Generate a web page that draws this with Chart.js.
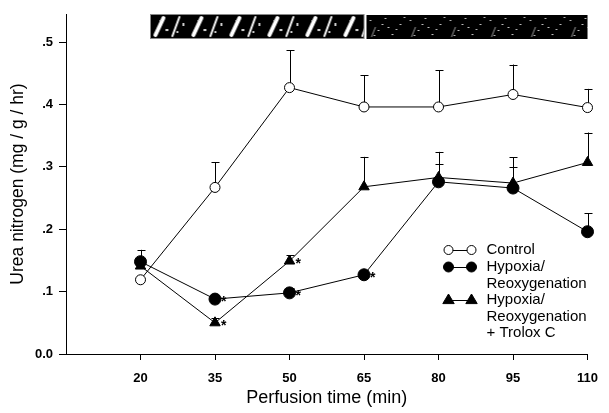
<!DOCTYPE html>
<html>
<head>
<meta charset="utf-8">
<script src="https://cdn.jsdelivr.net/npm/chart.js@4.4.1/dist/chart.umd.min.js"></script>
<style>
  html, body { margin: 0; padding: 0; background: #fff; }
  #wrap { width: 609px; height: 413px; position: relative; }
</style>
</head>
<body>
<div id="wrap"><canvas id="c"></canvas></div>
<script>
// ---- data ----
const times = [20, 35, 50, 65, 80, 95, 110];
const xTickValues = [20, 35, 50, 65, 80, 95, 110];
const yTickValues = [0, 0.1, 0.2, 0.3, 0.4, 0.5];

const controlMean = [0.119, 0.267, 0.427, 0.396, 0.396, 0.416, 0.395];
const controlUpper = [null, 0.307, 0.487, 0.447, 0.455, 0.464, 0.425];

const hypoxiaMean = [0.148, 0.088, 0.098, 0.127, 0.276, 0.266, 0.196];
const hypoxiaUpper = [0.167, 0.095, 0.105, 0.135, 0.305, 0.300, 0.226];
const hypoxiaStar = [false, true, true, true, false, false, false];

const troloxMean = [0.141, 0.050, 0.149, 0.268, 0.283, 0.274, 0.307];
const troloxUpper = [null, 0.057, 0.158, 0.316, 0.324, 0.315, 0.355];
const troloxStar = [false, true, true, false, false, false, false];

const legendLabels = [
  ['Control'],
  ['Hypoxia/', 'Reoxygenation'],
  ['Hypoxia/', 'Reoxygenation', '+ Trolox C']
];
// periods shown by the top bar (x values)
const hypoxiaPeriod = [22, 65];
const reoxPeriod = [65.5, 110];

const FONT = 'Liberation Sans, Arial, Helvetica, sans-serif';

function pts(arr) { return times.map((t, i) => ({ x: t, y: arr[i] })); }

const datasets = [
  { label: 'Control', data: pts(controlMean), upper: controlUpper, stars: null, clip: false,
    borderColor: '#000', borderWidth: 1, pointStyle: 'circle', pointRadius: 5,
    pointBackgroundColor: '#fff', pointBorderColor: '#000', pointBorderWidth: 1, order: 1 },
  { label: 'Hypoxia/Reoxygenation', data: pts(hypoxiaMean), upper: hypoxiaUpper, stars: hypoxiaStar, clip: false,
    borderColor: '#000', borderWidth: 1, pointStyle: 'circle', pointRadius: 6,
    pointBackgroundColor: '#000', pointBorderColor: '#000', pointBorderWidth: 1, order: 2 },
  { label: 'Hypoxia/Reoxygenation + Trolox C', data: pts(troloxMean), upper: troloxUpper, stars: troloxStar, clip: false,
    borderColor: '#000', borderWidth: 1, pointStyle: 'triangle', pointRadius: 6,
    pointBackgroundColor: '#000', pointBorderColor: '#000', pointBorderWidth: 1, order: 3 }
];

function makeStreakPattern(ctx, ox, oy) {
  const c = document.createElement('canvas');
  c.width = 38; c.height = 24;
  const g = c.getContext('2d');
  g.fillStyle = '#000'; g.fillRect(0, 0, 38, 24);
  g.strokeStyle = '#fff'; g.lineCap = 'round';
  g.lineWidth = 4;
  g.beginPath(); g.moveTo(5, 21); g.lineTo(13, 4); g.stroke();
  g.lineWidth = 2;
  g.beginPath(); g.moveTo(22, 22); g.lineTo(29, 3); g.stroke();
  g.fillStyle = '#ccc';
  g.fillRect(15, 15, 3, 2); g.fillRect(32, 9, 2, 3); g.fillRect(9, 6, 2, 1); g.fillRect(26, 17, 2, 2);
  const p = ctx.createPattern(c, 'repeat');
  if (p.setTransform) p.setTransform(new DOMMatrix().translate(ox, oy));
  return p;
}
function makeSpecklePattern(ctx, ox, oy) {
  const c = document.createElement('canvas');
  c.width = 40; c.height = 24;
  const g = c.getContext('2d');
  g.fillStyle = '#000'; g.fillRect(0, 0, 40, 24);
  g.fillStyle = '#bbb';
  const spots = [[3,5],[11,15],[18,3],[25,19],[33,9],[7,20],[29,14],[15,9],[37,2],[21,12]];
  spots.forEach(s => g.fillRect(s[0], s[1], 2, 1));
  g.strokeStyle = '#999'; g.lineWidth = 1;
  g.beginPath(); g.moveTo(5, 22); g.lineTo(9, 12); g.stroke();
  const p = ctx.createPattern(c, 'repeat');
  if (p.setTransform) p.setTransform(new DOMMatrix().translate(ox, oy));
  return p;
}

const decorPlugin = {
  id: 'decor',
  beforeDatasetsDraw(chart) {
    const ctx = chart.ctx, xs = chart.scales.x, ys = chart.scales.y;
    ctx.save();
    ctx.strokeStyle = '#000'; ctx.lineWidth = 1;
    chart.data.datasets.forEach(ds => {
      ds.data.forEach((p, i) => {
        const u = ds.upper[i];
        if (u == null) return;
        const px = Math.round(xs.getPixelForValue(p.x)) + 0.5;
        const y0 = ys.getPixelForValue(p.y), y1 = ys.getPixelForValue(u);
        ctx.beginPath(); ctx.moveTo(px, y0); ctx.lineTo(px, y1);
        ctx.moveTo(px - 4, Math.round(y1) + 0.5); ctx.lineTo(px + 4, Math.round(y1) + 0.5);
        ctx.stroke();
      });
    });
    ctx.restore();
  },
  afterDatasetsDraw(chart) {
    const ctx = chart.ctx, xs = chart.scales.x, ys = chart.scales.y, ca = chart.chartArea;
    ctx.save();
    // asterisks
    ctx.fillStyle = '#000';
    ctx.font = 'bold 14px ' + FONT;
    ctx.textAlign = 'left'; ctx.textBaseline = 'middle';
    chart.data.datasets.forEach(ds => {
      if (!ds.stars) return;
      ds.data.forEach((p, i) => {
        if (!ds.stars[i]) return;
        ctx.fillText('*', xs.getPixelForValue(p.x) + 6, ys.getPixelForValue(p.y) + 3);
      });
    });
    // top bar
    const top = ca.top, h = 24;
    const l1 = xs.getPixelForValue(hypoxiaPeriod[0]), r1 = xs.getPixelForValue(hypoxiaPeriod[1]);
    const l2 = xs.getPixelForValue(reoxPeriod[0]), r2 = xs.getPixelForValue(reoxPeriod[1]);
    ctx.fillStyle = makeStreakPattern(ctx, l1, top);
    ctx.fillRect(l1, top, r1 - l1, h);
    ctx.fillStyle = makeSpecklePattern(ctx, l2, top + 1);
    ctx.fillRect(l2, top + 1, r2 - l2, h);
    ctx.strokeStyle = '#888'; ctx.lineWidth = 1;
    ctx.strokeRect(Math.round(l1) + 0.5, top + 0.5, r1 - l1, h);
    // legend
    const lx = xs.getPixelForValue(80) + 10;
    const tx = lx + 38;
    const rows = [250, 267, 300];
    const lineH = 16.5;
    ctx.font = '15px ' + FONT;
    ctx.textBaseline = 'middle';
    chart.data.datasets.forEach((ds, k) => {
      const y = rows[k];
      ctx.strokeStyle = '#000'; ctx.lineWidth = 1;
      ctx.beginPath(); ctx.moveTo(lx, y + 0.5); ctx.lineTo(lx + 23, y + 0.5); ctx.stroke();
      [lx, lx + 23].forEach(cx => {
        ctx.beginPath();
        if (ds.pointStyle === 'triangle') {
          const r = 6;
          ctx.moveTo(cx, y - r); ctx.lineTo(cx + r * 0.95, y + r * 0.6); ctx.lineTo(cx - r * 0.95, y + r * 0.6); ctx.closePath();
        } else {
          ctx.arc(cx, y, ds.pointRadius - (k === 0 ? 0.5 : 1), 0, Math.PI * 2);
        }
        ctx.fillStyle = ds.pointBackgroundColor; ctx.fill(); ctx.stroke();
      });
      ctx.fillStyle = '#000';
      legendLabels[k].forEach((t, j) => ctx.fillText(t, tx, y + j * lineH));
    });
    ctx.restore();
  }
};

new Chart(document.getElementById('c'), {
  type: 'line',
  data: { datasets },
  plugins: [decorPlugin],
  options: {
    responsive: true,
    maintainAspectRatio: false,
    animation: false,
    layout: { padding: { left: 0, right: 16, top: 14, bottom: 0 } },
    plugins: { legend: { display: false }, tooltip: { enabled: false } },
    elements: { line: { tension: 0 } },
    scales: {
      x: {
        type: 'linear', min: 5, max: 110,
        afterBuildTicks(s) { s.ticks = xTickValues.map(v => ({ value: v })); },
        afterFit(s) { s.height = 59; },
        border: { display: true, color: '#000', width: 1 },
        grid: { drawOnChartArea: false, drawTicks: true, tickLength: 6, color: '#000' },
        ticks: { color: '#000', padding: 11, maxRotation: 0, font: { family: FONT, size: 13, weight: 'bold' } },
        title: { display: true, text: 'Perfusion time (min)', color: '#000',
                 font: { family: FONT, size: 18 }, padding: { top: 0, bottom: 4 } }
      },
      y: {
        type: 'linear', min: 0, max: 0.545,
        afterBuildTicks(s) { s.ticks = yTickValues.map(v => ({ value: v })); },
        afterFit(s) { s.width = 66; },
        border: { display: true, color: '#000', width: 1 },
        grid: { drawOnChartArea: false, drawTicks: true, tickLength: 7, color: '#000' },
        ticks: { color: '#000', padding: 6,
                 font: { family: FONT, size: 13, weight: 'bold' },
                 callback: v => v === 0 ? '0.0' : '.' + Math.round(v * 10) },
        title: { display: true, text: 'Urea nitrogen (mg / g / hr)', color: '#000',
                 font: { family: FONT, size: 17.5 }, padding: { top: 8, bottom: 0 } }
      }
    }
  }
});
</script>
</body>
</html>
